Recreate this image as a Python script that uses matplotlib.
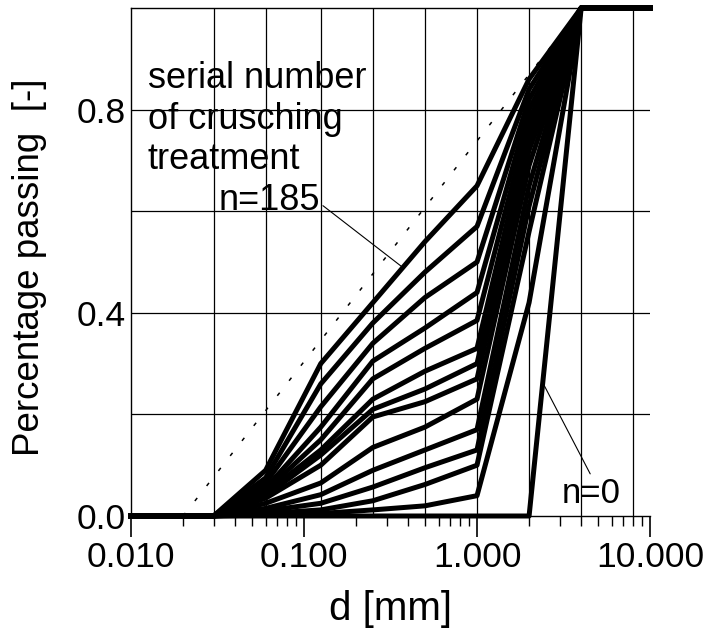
import numpy as np
import matplotlib
matplotlib.use("Agg")
import matplotlib.pyplot as plt
from matplotlib import font_manager
from matplotlib.ticker import LogLocator, NullFormatter

# sieve sizes [mm]
sieve_d = [0.01, 0.03, 0.06, 0.125, 0.25, 0.5, 1.0, 2.0, 4.0, 10.0]

# percentage passing for each crushing stage (top = n=185, last = n=0)
passing = [
    [0, 0, 0.090, 0.300, 0.420, 0.540, 0.650, 0.860, 1, 1],
    [0, 0, 0.075, 0.260, 0.380, 0.480, 0.570, 0.840, 1, 1],
    [0, 0, 0.065, 0.215, 0.340, 0.430, 0.500, 0.820, 1, 1],
    [0, 0, 0.055, 0.175, 0.305, 0.370, 0.440, 0.800, 1, 1],
    [0, 0, 0.050, 0.150, 0.270, 0.330, 0.385, 0.780, 1, 1],
    [0, 0, 0.045, 0.130, 0.230, 0.285, 0.330, 0.760, 1, 1],
    [0, 0, 0.040, 0.120, 0.210, 0.250, 0.300, 0.740, 1, 1],
    [0, 0, 0.035, 0.100, 0.195, 0.225, 0.270, 0.720, 1, 1],
    [0, 0, 0.025, 0.065, 0.135, 0.175, 0.230, 0.690, 1, 1],
    [0, 0, 0.015, 0.042, 0.090, 0.130, 0.170, 0.650, 1, 1],
    [0, 0, 0.010, 0.025, 0.057, 0.095, 0.130, 0.610, 1, 1],
    [0, 0, 0.005, 0.012, 0.030, 0.062, 0.100, 0.560, 1, 1],
    [0, 0, 0.002, 0.005, 0.012, 0.020, 0.040, 0.420, 1, 1],
    [0, 0, 0.000, 0.000, 0.000, 0.000, 0.000, 0.000, 1, 1],
]

# dotted reference line
ref_d = [0.02, 4.0]
ref_p = [0.0, 1.0]

grid_d = [0.03, 0.06, 0.125, 0.25, 0.5, 1, 2, 4, 8]
grid_p = [0.2, 0.4, 0.6, 0.8]

xticks = [0.01, 0.1, 1, 10]
xticklabels = ["0.010", "0.100", "1.000", "10.000"]
yticks = [0.0, 0.4, 0.8]
yticklabels = ["0.0", "0.4", "0.8"]

installed = {f.name for f in font_manager.fontManager.ttflist}
if "Liberation Sans Narrow" in installed:
    AX_FONT, AX_SIZE = "Liberation Sans Narrow", 31
else:
    AX_FONT, AX_SIZE = "Liberation Sans", 25.5
TXT_FONT = "Liberation Sans"

fig = plt.figure(figsize=(7.06, 6.34), dpi=100)
ax = fig.add_axes([131 / 706, 1 - 516 / 634, 519 / 706, 508 / 634])

for g in grid_d:
    ax.axvline(g, color="black", lw=0.9, zorder=1)
for g in grid_p:
    ax.axhline(g, color="black", lw=0.9, zorder=1)

ax.plot(ref_d, ref_p, color="black", lw=1.1, dashes=(2.5, 10), zorder=2)

for row in passing:
    ax.plot(sieve_d, row, color="black", lw=3.6, clip_on=False, zorder=3)

ax.set_xscale("log")
ax.set_xlim(0.01, 10)
ax.set_ylim(0, 1)

ax.set_xticks(xticks)
ax.set_xticklabels(xticklabels, family=AX_FONT, fontsize=AX_SIZE)
ax.xaxis.set_minor_locator(LogLocator(base=10, subs=np.arange(2, 10)))
ax.xaxis.set_minor_formatter(NullFormatter())
ax.tick_params(axis="x", which="major", length=15, width=1.2, direction="out", pad=3)
ax.tick_params(axis="x", which="minor", length=7, width=1.0, direction="out")

ax.set_yticks(yticks)
ax.set_yticklabels(yticklabels, family=AX_FONT, fontsize=AX_SIZE)
ax.tick_params(axis="y", length=0, pad=4)

ax.spines["right"].set_visible(False)
for s in ["left", "bottom", "top"]:
    ax.spines[s].set_linewidth(1.0)

ax.set_xlabel("d [mm]", family=AX_FONT, fontsize=29)
ax.xaxis.set_label_coords(0.5, -0.145)
ax.set_ylabel("Percentage passing  [-]", family=AX_FONT, fontsize=26.5)
ax.yaxis.set_label_coords(-0.162, 0.49)

ax.text(0.0125, 0.895, "serial number\nof crusching\ntreatment",
        family=TXT_FONT, fontsize=26, va="top", ha="left", linespacing=1.2, zorder=4)
ax.annotate("n=185", xy=(0.37, 0.49), xytext=(0.124, 0.622),
            family=TXT_FONT, fontsize=26, ha="right", va="center",
            arrowprops=dict(arrowstyle="-", lw=0.8, color="black",
                            relpos=(1.0, 0.4), shrinkA=0, shrinkB=0))
ax.annotate("n=0", xy=(2.42, 0.26), xytext=(4.6, 0.045),
            family=TXT_FONT, fontsize=25, ha="center", va="center",
            arrowprops=dict(arrowstyle="-", lw=0.8, color="black",
                            relpos=(0.5, 1.0), shrinkA=0, shrinkB=0))

fig.savefig("out.png", dpi=100)
